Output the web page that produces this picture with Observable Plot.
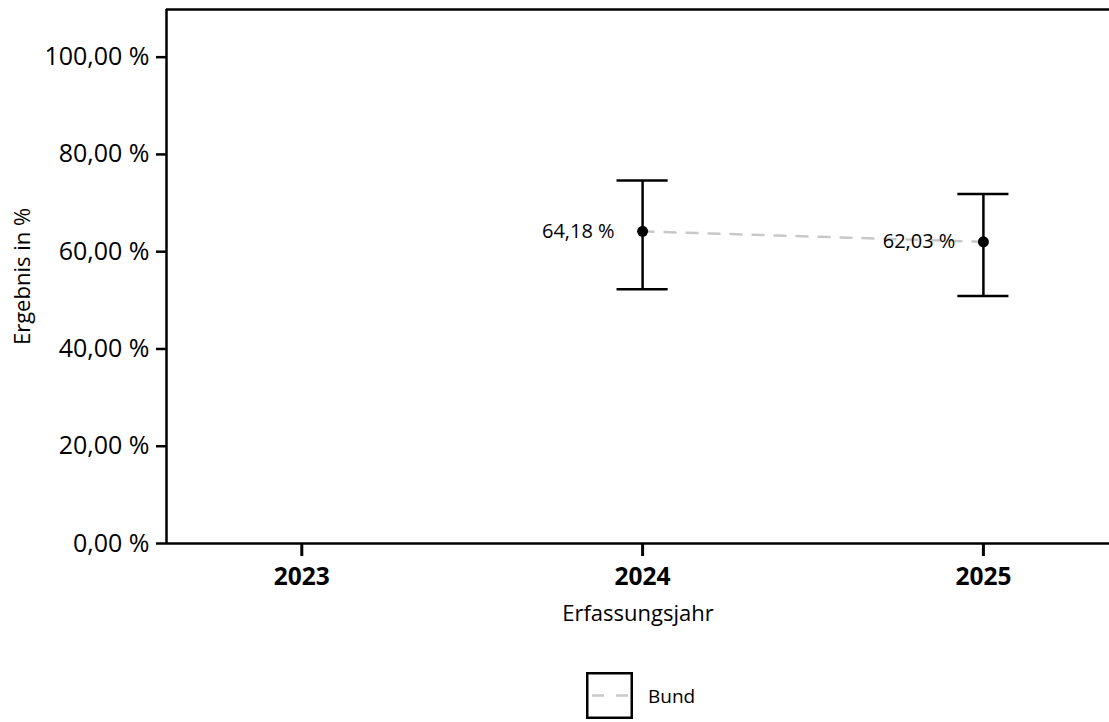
<!DOCTYPE html>
<html>
<head>
<meta charset="utf-8">
<script src="https://cdn.jsdelivr.net/npm/d3@7"></script>
<script src="https://cdn.jsdelivr.net/npm/@observablehq/plot@0.6"></script>
<style>
  html, body { margin: 0; padding: 0; background: #fff; }
  body { width: 1109px; height: 722px; position: relative; overflow: hidden; font-family: "Open Sans", sans-serif; }
  #legend { position: absolute; left: 586px; top: 672px; display: flex; align-items: center; }
  #legend span { font-size: 19px; margin-left: 15px; color: #000; }
</style>
</head>
<body>
<div id="chart"></div>
<div id="legend"></div>
<script>
const years = [2024, 2025];
const values = [64.18, 62.03];
const lower = [52.26, 50.88];
const upper = [74.66, 71.87];
const xTicks = [2023, 2024, 2025];
const yTicks = [0, 20, 40, 60, 80, 100];
const seriesName = "Bund";

const data = years.map((year, i) => ({year, value: values[i], lo: lower[i], hi: upper[i]}));
const fmt = v => v.toFixed(2).replace(".", ",") + " %";
const capHalf = 0.075;
const yMax = 109.8;
const xDomain = [2022.603, 2025.37];

const chart = Plot.plot({
  width: 1109,
  height: 660,
  marginLeft: 166,
  marginRight: 0,
  marginTop: 9,
  marginBottom: 117,
  style: {fontFamily: "Open Sans, sans-serif", color: "#000", background: "#fff"},
  x: {domain: xDomain},
  y: {domain: [0, yMax]},
  marks: [
    Plot.axisY({ticks: yTicks, tickFormat: fmt, tickSize: 10, tickPadding: 7, strokeWidth: 2.5, fontSize: 25, label: null}),
    Plot.axisX({ticks: xTicks, tickFormat: d => String(d), tickSize: 13, tickPadding: 11, strokeWidth: 3, fontSize: 24.5, fontWeight: "bold", label: null}),
    Plot.ruleY([0], {strokeWidth: 2.5}),
    Plot.ruleY([yMax], {strokeWidth: 2.5}),
    Plot.ruleX([xDomain[0]], {strokeWidth: 2.5}),
    Plot.line(data, {x: "year", y: "value", stroke: "#c8c8c8", strokeWidth: 2.5, strokeDasharray: "11,11"}),
    Plot.ruleX(data, {x: "year", y1: "lo", y2: "hi", strokeWidth: 2.5}),
    Plot.ruleY(data, {y: "hi", x1: d => d.year - capHalf, x2: d => d.year + capHalf, strokeWidth: 2.5}),
    Plot.ruleY(data, {y: "lo", x1: d => d.year - capHalf, x2: d => d.year + capHalf, strokeWidth: 2.5}),
    Plot.dot(data, {x: "year", y: "value", r: 5.5, fill: "#000"}),
    Plot.text(data, {x: "year", y: "value", text: d => fmt(d.value), textAnchor: "end", dx: -28, fontSize: 20, fill: "#000"}),
    Plot.text(["Ergebnis in %"], {frameAnchor: "left", textAnchor: "middle", dx: -144, rotate: -90, fontSize: 22, fill: "#000"}),
    Plot.text(["Erfassungsjahr"], {frameAnchor: "bottom", dy: 77, fontSize: 22, fill: "#000"})
  ]
});
document.getElementById("chart").appendChild(chart);

const legend = document.getElementById("legend");
legend.innerHTML = `<svg width="47" height="47"><rect x="1.25" y="1.25" width="44.5" height="44.5" fill="#fff" stroke="#000" stroke-width="2.5"/><line x1="6" x2="42" y1="23.5" y2="23.5" stroke="#c8c8c8" stroke-width="2.5" stroke-dasharray="12,12"/></svg><span>${seriesName}</span>`;
</script>
</body>
</html>
